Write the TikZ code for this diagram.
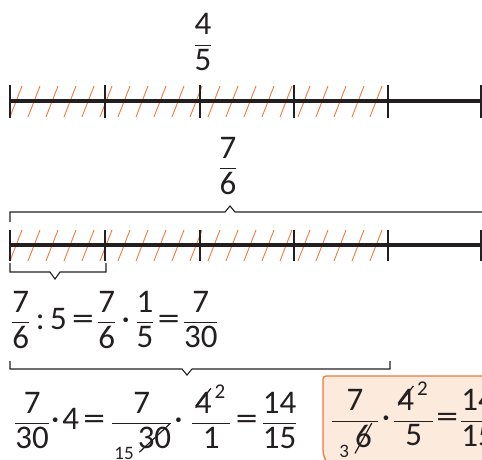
\documentclass[tikz,border=0pt]{standalone}
\usepackage{amsmath}
\usepackage{graphicx}
\usepackage{fontspec}
\setmainfont{Carlito}
\usepackage{xcolor}
\usepackage{tikz}

\definecolor{hatchorange}{RGB}{240,122,58}
\definecolor{boxfill}{RGB}{252,234,221}
\definecolor{linegray}{RGB}{35,31,32}

\newcommand{\fr}[2]{\ensuremath{\dfrac{\text{#1}}{\text{#2}}}}
% struck-out digits: angle, stroke length, lift, digits
\newcommand{\cut}[4]{\ooalign{#4\cr\hidewidth\raisebox{#3}{\rotatebox{#1}{\rule{#2}{1.2pt}}}\hidewidth\cr}}
\newcommand{\lo}[1]{\raisebox{-0.32em}{\fontsize{19}{19}\selectfont #1}}
\newcommand{\hi}[1]{\raisebox{0.45em}{\fontsize{21}{21}\selectfont #1}}
\newcommand{\eqs}{\scalebox{1.35}[1]{=}}

\begin{document}
\begin{tikzpicture}[x=1pt,y=-1pt,
  numline/.style={line width=3.2pt,draw=linegray},
  tickmark/.style={line width=2.8pt,draw=linegray},
  hatch/.style={draw=hatchorange,line width=0.9pt},
  bracket/.style={draw=linegray,line width=1.1pt},
  eq/.style={inner sep=0pt,font=\fontsize{33}{40}\selectfont,text=linegray},
  resbox/.style={draw=hatchorange,fill=boxfill,line width=1.3pt}]
\useasboundingbox (0,0) rectangle (482,459);
\clip (0,0) rectangle (482,459);

% 4/5 of the whole line
\node[eq] (fourfifths) at (203,42) {\fr{4}{5}};
\begin{scope}
\clip (10,86) rectangle (388,117);
\foreach \x in {-8,10,...,400} {\draw[hatch] (\x,117)--(\x+12,86);}
\end{scope}
\draw[numline] (10,101)--(482,101);
\foreach \x in {10,105,200,294,388,481} {\draw[tickmark] (\x,85)--(\x,118);}

% 7/6 over the line
\node[eq] (sevensixths) at (228,166) {\fr{7}{6}};
\draw[bracket] (10,222)--(10,212)--(225,212)--(230,206)--(235,212)--(482,212);
\begin{scope}
\clip (10,230) rectangle (388,261);
\foreach \x in {-8,10,...,400} {\draw[hatch] (\x,261)--(\x+12,230);}
\end{scope}
\draw[numline] (10,245)--(482,245);
\foreach \x in {10,105,200,294,388,481} {\draw[tickmark] (\x,230)--(\x,261);}
\draw[bracket] (10,263)--(10,272)--(50,272)--(55,279)--(60,272)--(106,272)--(106,263);

% one part
\node[eq,anchor=west] (partone) at (11,320)
  {\fr{7}{6}\,:\,5\kern5pt\eqs\kern3pt\fr{7}{6}\,·\,\fr{1}{5}\kern3pt\eqs\kern3pt\fr{7}{30}};
\draw[bracket] (10,361)--(10,369)--(182,369)--(187,375)--(192,369)--(390,369)--(390,361);

% four parts
\node[eq,anchor=west] (partfour) at (14,422)
  {\fr{7}{30}\kern1pt·\kern3pt4\kern4pt\eqs\kern6pt\fr{7}{\kern2pt\lo{15}\kern4pt\cut{43}{1.25em}{-0.12em}{30}}\kern2pt·\kern8pt\fr{\kern3pt\cut{52}{0.75em}{0.15em}{4}\kern3pt\hi{2}\kern5pt}{1}\kern4pt\eqs\kern4pt\fr{14}{15}};

% short way
\draw[resbox] (520,376) [rounded corners=3pt]-- (323,376) [rounded corners=20pt]-- (323,470) -- (520,470);
\node[eq,anchor=west] (shortway) at (331,420)
  {\fr{7}{\kern7pt\lo{3}\kern6pt\cut{61}{1.05em}{-0.2em}{6}\kern6pt}\kern3pt·\kern3pt\fr{\kern3pt\cut{52}{0.75em}{0.15em}{4}\kern3pt\hi{2}\kern5pt}{5}\kern2pt\eqs\kern2pt\fr{14}{15}};
\end{tikzpicture}
\end{document}
